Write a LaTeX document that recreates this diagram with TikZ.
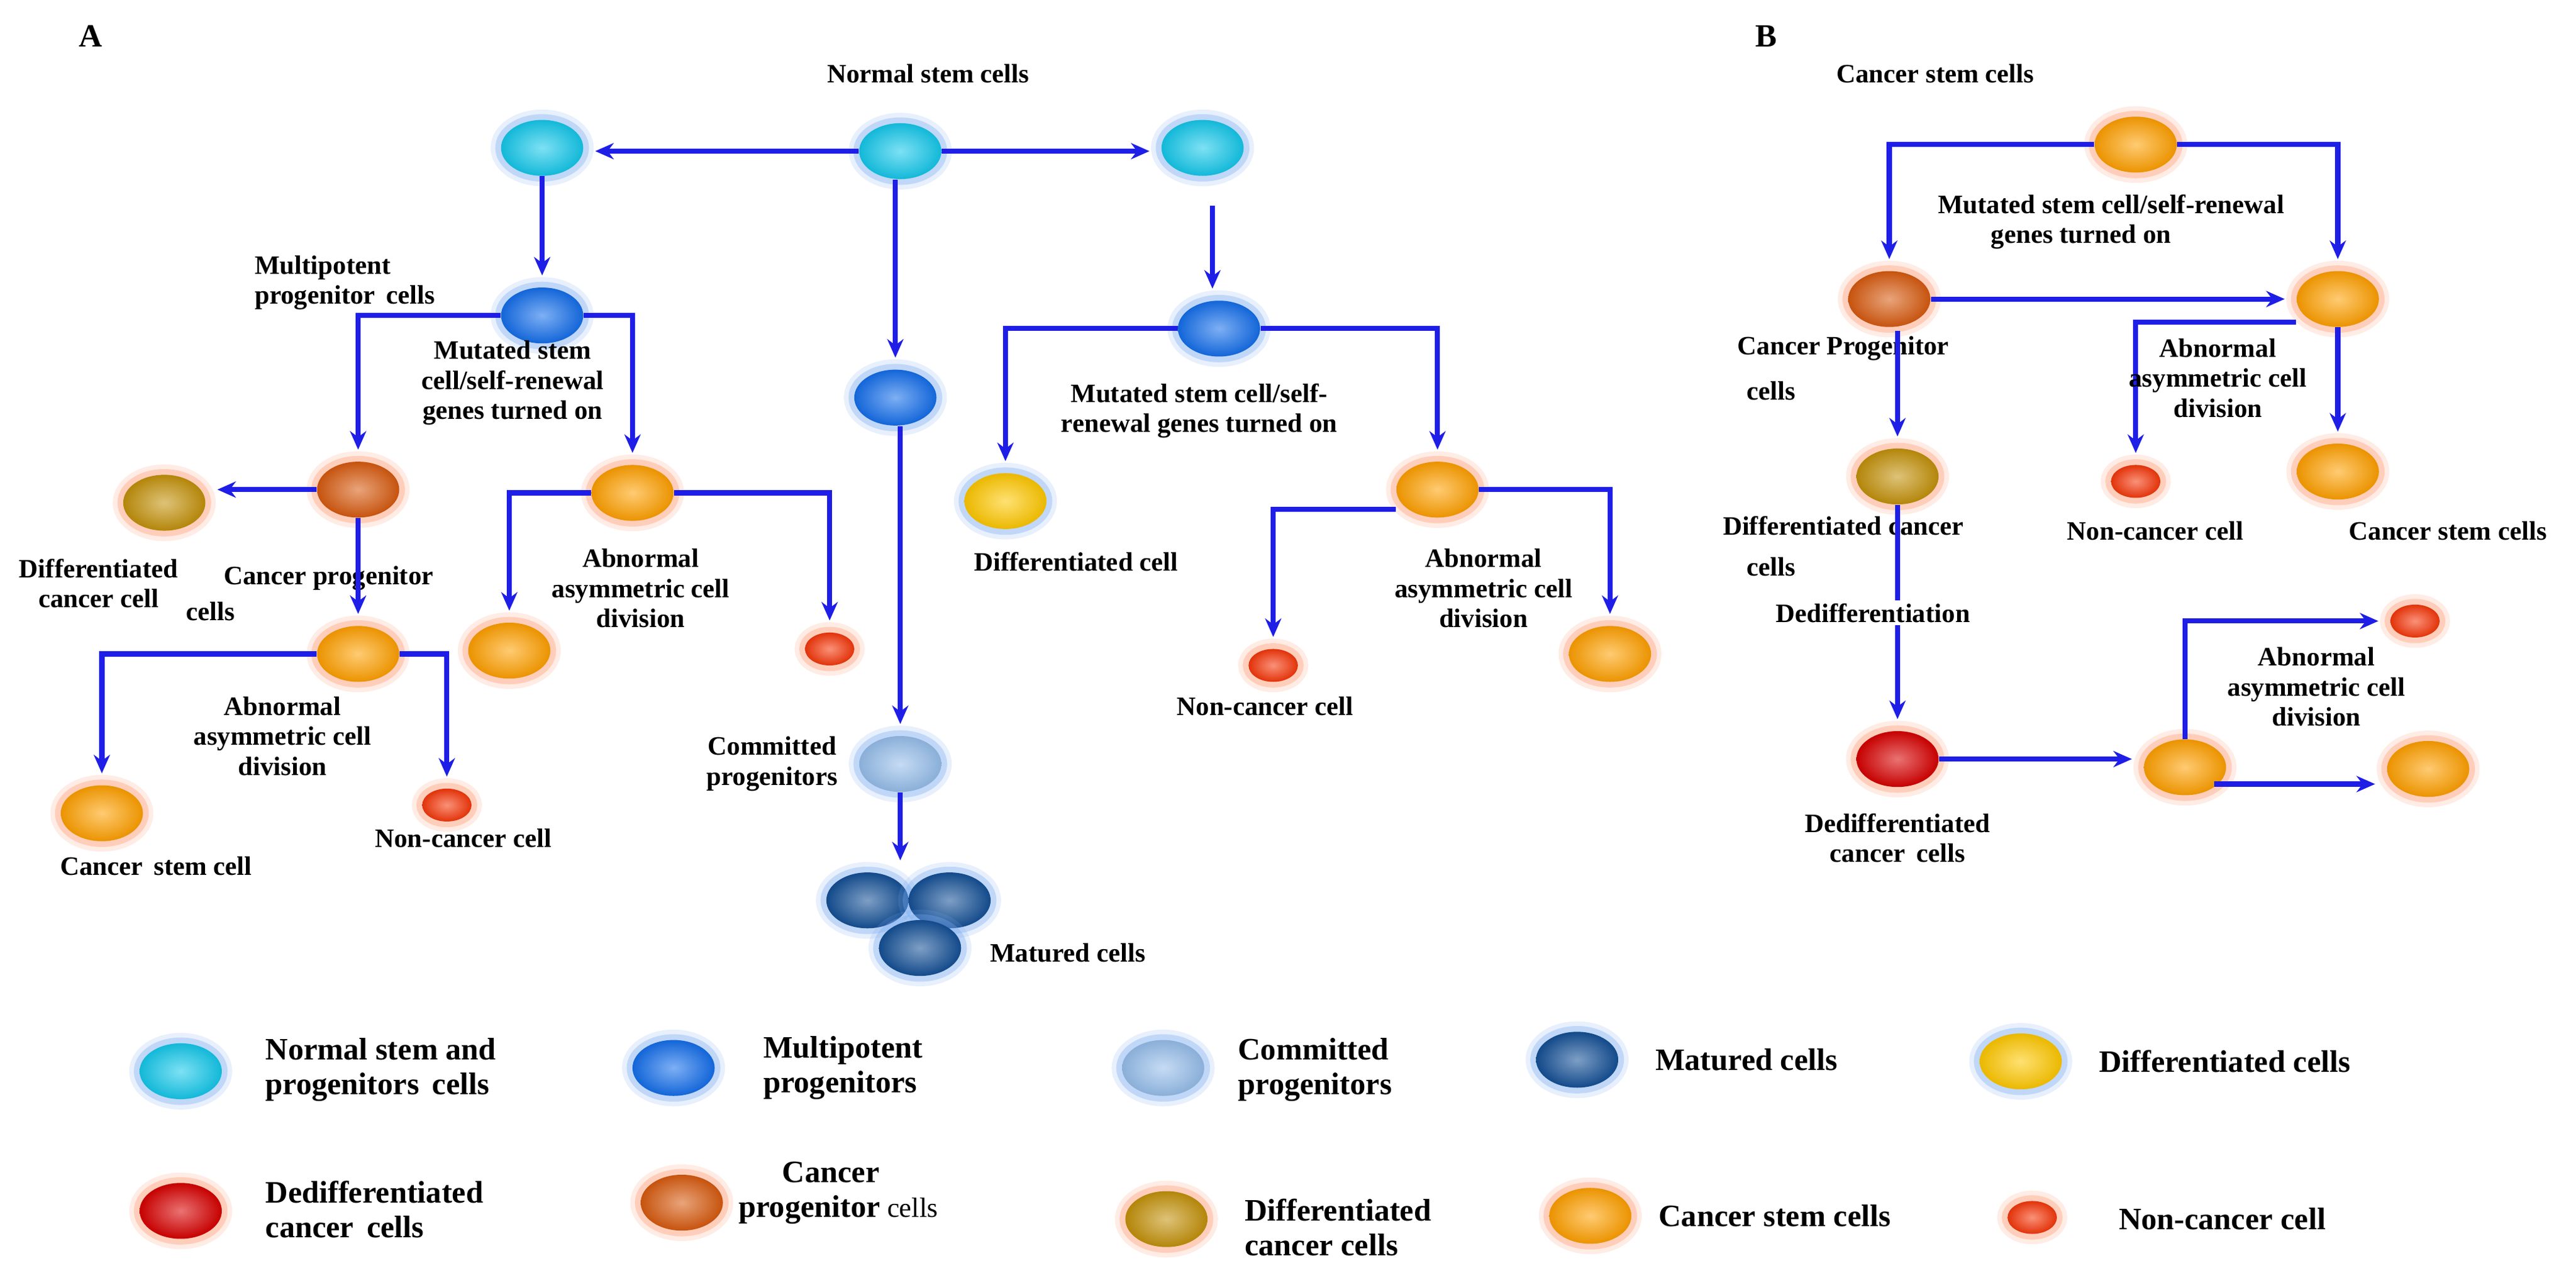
\documentclass[tikz,border=0pt]{standalone}
\usepackage{fontspec}
\setmainfont{Liberation Serif}
\usetikzlibrary{shapes.geometric,arrows.meta}
\definecolor{cNorm}{RGB}{20,200,235}
\definecolor{cMulti}{RGB}{20,110,235}
\definecolor{cComm}{RGB}{150,190,235}
\definecolor{cMat}{RGB}{20,80,150}
\definecolor{cDiff}{RGB}{255,200,0}
\definecolor{cCSC}{RGB}{255,160,0}
\definecolor{cProg}{RGB}{215,90,15}
\definecolor{cDC}{RGB}{195,145,10}
\definecolor{cRed}{RGB}{215,0,0}
\definecolor{cNon}{RGB}{245,55,10}
\definecolor{hBlue}{RGB}{120,170,240}
\definecolor{hOr}{RGB}{255,150,110}
\definecolor{arr}{RGB}{30,30,230}
\tikzset{
 cell/.style 2 args={ellipse,inner sep=0pt,inner color=#1!55!white,outer color=#1!92!black,
   preaction={draw=#2,line width=9pt,draw opacity=0.18},
   preaction={draw=#2,line width=5pt,draw opacity=0.35}},
 big/.style={minimum width=1.25cm,minimum height=0.85cm},
 small/.style={minimum width=0.75cm,minimum height=0.5cm},
 norm/.style={cell={cNorm}{hBlue},big},
 multi/.style={cell={cMulti}{hBlue},big},
 comm/.style={cell={cComm}{hBlue},big},
 mat/.style={cell={cMat}{hBlue},big},
 diff/.style={cell={cDiff}{hBlue},big},
 csc/.style={cell={cCSC}{hOr},big},
 prog/.style={cell={cProg}{hOr},big},
 dc/.style={cell={cDC}{hOr},big},
 ded/.style={cell={cRed}{hOr},big},
 non/.style={cell={cNon}{hOr},small},
 lab/.style={font=\bfseries\fontsize{11.5}{13}\selectfont,align=center,inner sep=1pt},
 leg/.style={font=\bfseries\fontsize{13.5}{15}\selectfont,align=left,anchor=west,inner sep=1pt},
 a/.style={draw=arr,line width=2.2pt,-{Stealth[length=8pt,width=7pt]},shorten >=5pt},
 l/.style={draw=arr,line width=2.2pt},
}
\begin{document}
\begin{tikzpicture}[x=0.025cm,y=-0.025cm]
\useasboundingbox (0,0) rectangle (1568,782);
% ---------- Panel A
\node[lab,font=\bfseries\fontsize{14}{16}\selectfont] (A) at (55,22) {A};
\node[lab] (tA) at (565,45) {Normal stem cells};
\node[norm] (n1) at (330,90) {};
\node[norm] (n2) at (548,92) {};
\node[norm] (n3) at (732,90) {};
\draw[a] (n2.west) -- (n2.west -| n1.east);
\draw[a] (n2.east) -- (n2.east -| n3.west);
\node[multi] (m1) at (330,192) {};
\node[multi] (m2) at (545,242) {};
\node[multi] (m3) at (742,200) {};
\draw[a] (n1.south) -- (m1.north);
\draw[a] (m2.north |- n2.south) -- (m2.north);
\draw[a] (m3.north |- n3.south) ++(-4,18) coordinate (n3s) -- (n3s |- m3.north);
\node[lab,align=left] (lmp) at (210,172) {Multipotent\\progenitor\, cells};
\node[prog] (p1) at (218,298) {};
\node[csc] (s1) at (385,300) {};
\draw[a] (m1.west) -| (p1.north);
\draw[a] (m1.east) -| (s1.north);
\node[lab] (lmut1) at (312,233) {Mutated stem\\cell/self-renewal\\genes turned on};
\node[dc] (d1) at (100,306) {};
\draw[a] (p1.west) -- (p1.west -| d1.east);
\node[lab] (ld1) at (60,355) {Differentiated\\cancer cell};
\node[lab] (lp1) at (200,352) {Cancer progenitor};
\node[lab] (lp1b) at (128,372) {cells};
\node[csc] (s2) at (218,398) {};
\draw[a] (p1.south) -- (s2.north);
\node[csc] (s3) at (62,495) {};
\node[non] (x1) at (272,490) {};
\draw[a] (s2.west) -| (s3.north);
\draw[a] (s2.east) -| (x1.north);
\node[lab] (lab1) at (172,448) {Abnormal\\asymmetric cell\\division};
\node[lab] (ls3) at (95,527) {Cancer\, stem cell};
\node[lab] (lx1) at (282,510) {Non-cancer cell};
\node[csc] (s4) at (310,396) {};
\node[non] (x2) at (505,395) {};
\draw[a] (s1.west) -| (s4.north);
\draw[a] (s1.east) -| (x2.north);
\node[lab] (lab2) at (390,358) {Abnormal\\asymmetric cell\\division};
\node[comm] (c1) at (548,465) {};
\draw[a] (c1.north |- m2.south) -- (c1.north);
\node[lab] (lc1) at (470,465) {Committed\\progenitors};
\node[mat] (mt1) at (528,548) {};
\node[mat] (mt2) at (578,548) {};
\node[mat] (mt3) at (560,577) {};
\draw[a] (c1.south) -- (c1.south |- mt1.north);
\node[lab] (lmt) at (650,580) {Matured cells};
\node[diff] (df1) at (612,305) {};
\node[csc] (s5) at (875,298) {};
\draw[a] (m3.west) -| (df1.north);
\draw[a] (m3.east) -| (s5.north);
\node[lab] (lmut2) at (730,250) {Mutated stem cell/self-\\renewal genes turned on};
\node[lab] (ldf1) at (655,342) {Differentiated cell};
\node[non] (x3) at (775,405) {};
\node[csc] (s6) at (980,398) {};
\draw[a] (s5.west) ++(0,12) coordinate (s5w) -| (x3.north);
\draw[a] (s5.east) -| (s6.north);
\node[lab] (lab3) at (903,358) {Abnormal\\asymmetric cell\\division};
\node[lab] (lx3) at (770,430) {Non-cancer cell};
% ---------- Panel B
\node[lab,font=\bfseries\fontsize{14}{16}\selectfont] (B) at (1075,22) {B};
\node[lab] (tB) at (1178,45) {Cancer stem cells};
\node[csc] (b0) at (1300,88) {};
\node[prog] (bp) at (1150,182) {};
\node[csc] (b1) at (1423,182) {};
\draw[a] (b0.west) -| (bp.north);
\draw[a] (b0.east) -| (b1.north);
\node[lab,align=left] (lmutB) at (1285,135) {Mutated stem cell/self-renewal\\\hspace*{2em}genes turned on};
\draw[a] (bp.east) -- (bp.east -| b1.west);
\node[lab] (lbp) at (1122,212) {Cancer Progenitor};
\node[lab] (lbp2) at (1078,238) {cells};
\node[dc] (bdc) at (1155,290) {};
\draw[a] (bp.south -| bdc.north) ++(0,2) -- (bdc.north);
\node[non] (bx1) at (1300,293) {};
\node[csc] (b2) at (1423,287) {};
\draw[a] (b1.west) ++(0,14) coordinate (b1w) -| (bx1.north);
\draw[a] (b1.south) -- (b2.north);
\node[lab] (labB1) at (1350,230) {Abnormal\\asymmetric cell\\division};
\node[lab] (lbdc) at (1122,320) {Differentiated cancer};
\node[lab] (lbdc2) at (1078,345) {cells};
\node[lab] (lbx1) at (1312,323) {Non-cancer cell};
\node[lab] (lb2) at (1490,323) {Cancer stem cells};
\node[lab] (lded) at (1140,373) {Dedifferentiation};
\node[ded] (bred) at (1155,462) {};
\draw[l] (bdc.south) -- (lded.north -| bdc.south);
\draw[a] (lded.south -| bdc.south) -- (bred.north -| bdc.south);
\node[lab] (lbred) at (1155,510) {Dedifferentiated\\cancer\, cells};
\node[csc] (b3) at (1330,467) {};
\draw[a] (bred.east) -- (bred.east -| b3.west);
\node[non] (bx2) at (1470,378) {};
\node[csc] (b4) at (1478,468) {};
\draw[a] (b3.north) |- (bx2.west);
\draw[a] (b3.south east) ++(0,-2) coordinate (b3e) -- (b3e -| b4.west);
\node[lab] (labB2) at (1410,418) {Abnormal\\asymmetric cell\\division};
% ---------- Legend
\node[norm] (g1) at (110,652) {};
\node[leg] (tg1) at (160,651) {Normal stem and\\progenitors\, cells};
\node[multi] (g2) at (410,650) {};
\node[leg] (tg2) at (463,650) {Multipotent\\progenitors};
\node[comm] (g3) at (708,650) {};
\node[leg] (tg3) at (752,651) {Committed\\progenitors};
\node[mat] (g4) at (960,645) {};
\node[leg] (tg4) at (1006,645) {Matured cells};
\node[diff] (g5) at (1230,646) {};
\node[leg] (tg5) at (1276,646) {Differentiated cells};
\node[ded] (g6) at (110,737) {};
\node[leg] (tg6) at (160,736) {Dedifferentiated\\cancer\, cells};
\node[prog] (g7) at (415,732) {};
\node[leg] (tg7) at (448,726) {\hspace*{1.4em}Cancer\\progenitor{\mdseries\fontsize{12}{14}\selectfont\ cells}};
\node[dc] (g8) at (710,742) {};
\node[leg] (tg8) at (756,747) {Differentiated\\cancer cells};
\node[csc] (g9) at (968,740) {};
\node[leg] (tg9) at (1008,740) {Cancer stem cells};
\node[non] (g10) at (1237,741) {};
\node[leg] (tg10) at (1288,742) {Non-cancer cell};
\end{tikzpicture}
\end{document}
